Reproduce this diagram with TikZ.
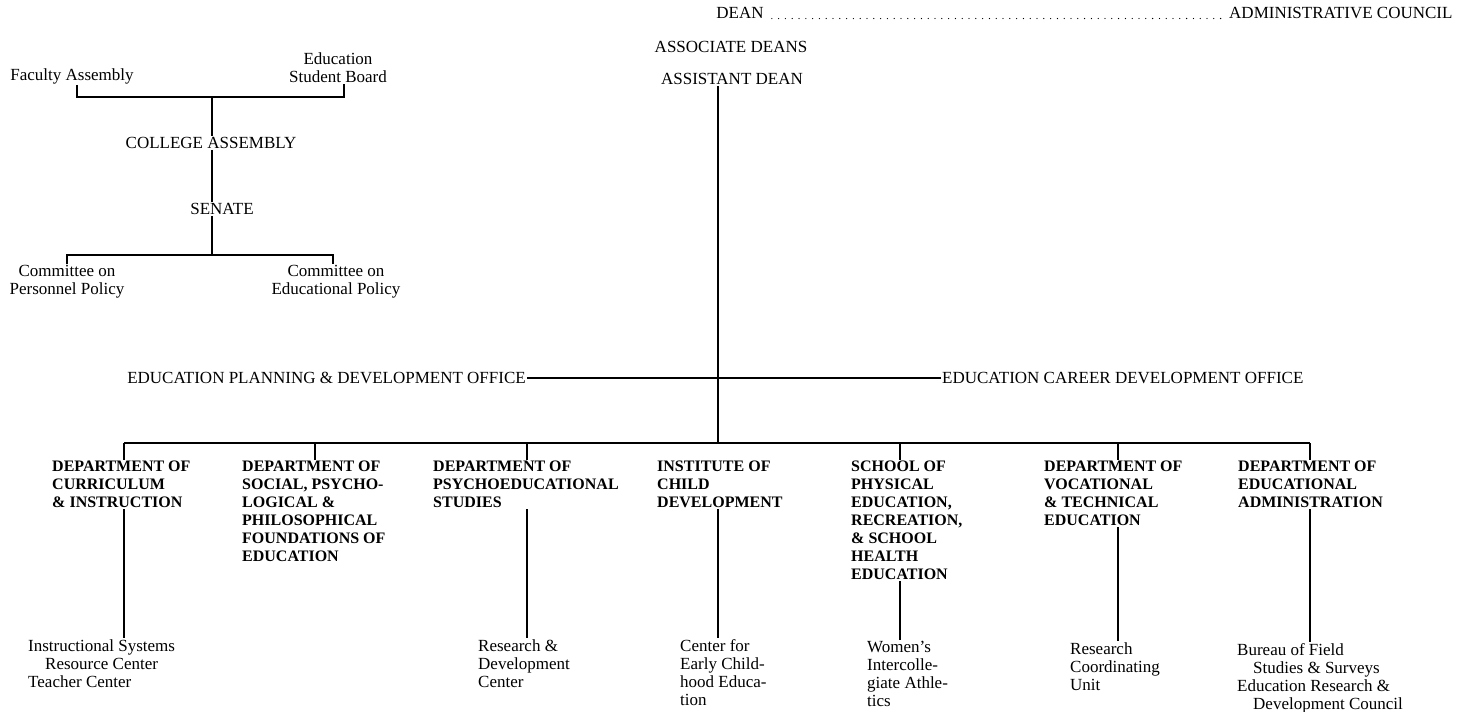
\documentclass[tikz,border=0pt]{standalone}
\usepackage{fontspec}
\setmainfont{Liberation Serif}
\usepackage{tikz}

\begin{document}
\begin{tikzpicture}[x=1pt,y=-1pt]
        \tikzset{title/.style = {font=\fontsize{17}{18}\selectfont, inner sep=1pt}}
        \tikzset{dept/.style = {font=\fontsize{16}{18}\selectfont\bfseries, align=left, anchor=north west, inner sep=1pt}}
        \tikzset{unit/.style = {font=\fontsize{17}{18}\selectfont, align=left, anchor=north west, inner sep=1pt}}
        \tikzset{link/.style = {line width=1.2pt}}
        \tikzset{leader/.style = {line width=1.3pt, line cap=round, dash pattern=on 0pt off 6.8pt}}
        \useasboundingbox (0,0) rectangle (1468,712);
        % dean's office
        \node[title] (dean) at (740,13) {DEAN};
        \node[title, anchor=west] (adc) at (1228,13) {ADMINISTRATIVE COUNCIL};
        \node[title] (asc) at (731,47) {ASSOCIATE DEANS};
        \node[title] (ad) at (732,79) {ASSISTANT DEAN};
        % assemblies
        \node[title] (fac) at (72,76) {Faculty Assembly};
        \node[title, align=center] (esb) at (338,68) {Education\\Student Board};
        \node[title] (ca) at (211,143) {COLLEGE ASSEMBLY};
        \node[title] (sen) at (222,209) {SENATE};
        \node[title, align=center] (cpp) at (67,282) {Committee on\\Personnel Policy};
        \node[title, align=center] (cep) at (336,282) {Committee on\\Educational Policy};
        % offices
        \node[title, anchor=east] (epdo) at (527,378) {EDUCATION PLANNING \& DEVELOPMENT OFFICE};
        \node[title, anchor=west] (ecdo) at (941,378) {EDUCATION CAREER DEVELOPMENT OFFICE};
        % departments
        \node[dept] (dci) at (51,460) {DEPARTMENT OF\\CURRICULUM\\\& INSTRUCTION};
        \node[dept] (dspf) at (241,460) {DEPARTMENT OF\\SOCIAL, PSYCHO-\\LOGICAL \&\\PHILOSOPHICAL\\FOUNDATIONS OF\\EDUCATION};
        \node[dept] (dps) at (432,460) {DEPARTMENT OF\\PSYCHOEDUCATIONAL\\STUDIES};
        \node[dept] (icd) at (656,460) {INSTITUTE OF\\CHILD\\DEVELOPMENT};
        \node[dept] (sper) at (850,460) {SCHOOL OF\\PHYSICAL\\EDUCATION,\\RECREATION,\\\& SCHOOL\\HEALTH\\EDUCATION};
        \node[dept] (dvte) at (1043,460) {DEPARTMENT OF\\VOCATIONAL\\\& TECHNICAL\\EDUCATION};
        \node[dept] (dea) at (1237,460) {DEPARTMENT OF\\EDUCATIONAL\\ADMINISTRATION};
        % units
        \node[unit] (isrc) at (27,638) {Instructional Systems\\\hspace*{17pt}Resource Center\\Teacher Center};
        \node[unit] (rdc) at (477,638) {Research \&\\Development\\Center};
        \node[unit] (cecd) at (679,638) {Center for\\Early Child-\\hood Educa-\\tion};
        \node[unit] (wia) at (866,640) {Women's\\Intercolle-\\giate Athle-\\tics};
        \node[unit] (rcu) at (1069,641) {Research\\Coordinating\\Unit};
        \node[unit] (bfs) at (1236,642) {Bureau of Field\\\hspace*{16pt}Studies \& Surveys\\Education Research \&\\\hspace*{16pt}Development Council};
        % junctions
        \coordinate (jtop) at (212,97);
        \coordinate (jbot) at (212,255);
        \coordinate (b1) at (124,443);
        \coordinate (b2) at (315,443);
        \coordinate (b3) at (527,443);
        \coordinate (b4) at (718,443);
        \coordinate (b5) at (900,443);
        \coordinate (b6) at (1118,443);
        \coordinate (b7) at (1310,443);
        % edges
        \draw[leader] ([xshift=7pt]dean.base east) -- ([xshift=-3pt]adc.base west);
        \draw[link] ([xshift=5pt]fac.south) |- (jtop) -| ([xshift=6pt]esb.south);
        \draw[link] (jtop) -- (jtop |- ca.north);
        \draw[link] (jtop |- ca.south) -- (jtop |- sen.north);
        \draw[link] (jtop |- sen.south) -- (jbot);
        \draw[link] (cpp.north) |- (jbot) -| ([xshift=-3pt]cep.north);
        \draw[link] (ad.south -| b4) -- (b4);
        \draw[link] (epdo.east) -- (ecdo.west);
        \draw[link] (b1) -- (b7);
        \foreach \b/\d in {b1/dci, b2/dspf, b3/dps, b5/sper, b6/dvte, b7/dea}
            \draw[link] (\b) -- (\b |- \d.north);
        \draw[link] (b1 |- dci.south) -- (b1 |- isrc.north);
        \draw[link] (b3 |- dps.south) -- (b3 |- rdc.north);
        \draw[link] (b4 |- icd.south) -- (b4 |- cecd.north);
        \draw[link] (b5 |- sper.south) -- (b5 |- wia.north);
        \draw[link] (b6 |- dvte.south) -- (b6 |- rcu.north);
        \draw[link] (b7 |- dea.south) -- (b7 |- bfs.north);
\end{tikzpicture}
\end{document}
